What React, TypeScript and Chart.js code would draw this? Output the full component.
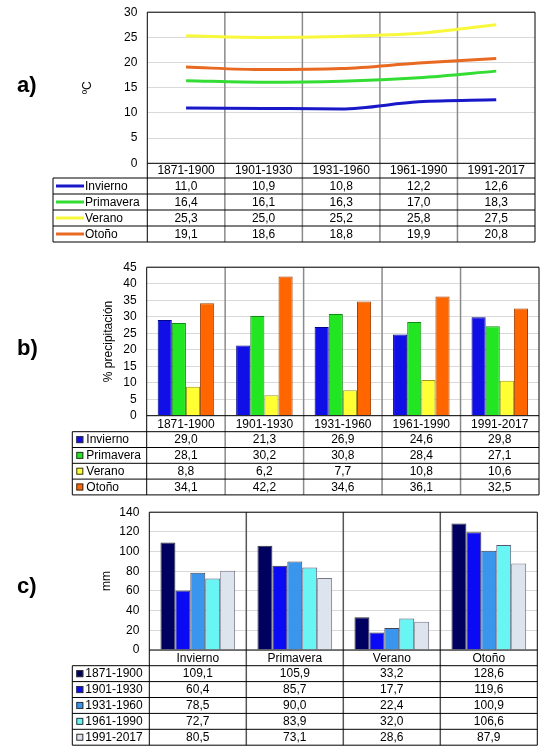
import React, { useEffect, useRef } from 'react';
import { Chart, registerables } from 'chart.js';

Chart.register(...registerables);
Chart.defaults.font.family = "'Liberation Sans', Arial, sans-serif";
Chart.defaults.font.size = 12;
Chart.defaults.color = '#000';

// ---------- data ----------
const periods = ['1871-1900', '1901-1930', '1931-1960', '1961-1990', '1991-2017'];
const seasons = ['Invierno', 'Primavera', 'Verano', 'Otoño'];

// a) temperatura media (ºC)
const tempInvierno = [11.0, 10.9, 10.8, 12.2, 12.6];
const tempPrimavera = [16.4, 16.1, 16.3, 17.0, 18.3];
const tempVerano = [25.3, 25.0, 25.2, 25.8, 27.5];
const tempOtono = [19.1, 18.6, 18.8, 19.9, 20.8];

// b) % precipitación
const pctInvierno = [29.0, 21.3, 26.9, 24.6, 29.8];
const pctPrimavera = [28.1, 30.2, 30.8, 28.4, 27.1];
const pctVerano = [8.8, 6.2, 7.7, 10.8, 10.6];
const pctOtono = [34.1, 42.2, 34.6, 36.1, 32.5];

// c) precipitación (mm) por estación
const mm1871 = [109.1, 105.9, 33.2, 128.6];
const mm1901 = [60.4, 85.7, 17.7, 119.6];
const mm1931 = [78.5, 90.0, 22.4, 100.9];
const mm1961 = [72.7, 83.9, 32.0, 106.6];
const mm1991 = [80.5, 73.1, 28.6, 87.9];

type Series = { label: string; data: number[]; color: string; edge: string };
type Panel = {
  id: string;
  type: 'line' | 'bar';
  labels: string[];
  series: Series[];
  yMax: number;
  yStep: number;
  yTitle: string;
  canvasTop: number;
  canvasHeight: number;
  pad: { left: number; right: number; top: number; bottom: number };
  yWidth: number;
  tableLeft: number;
  headerH: number;
  rowH: number;
  marker: 'line' | 'square';
  markerX: number;
  textX: number;
  dividerColor: string;
  catPct: number;
};

const panels: Panel[] = [
  {
    id: 'a',
    type: 'line',
    labels: periods,
    series: [
      { label: seasons[0], data: tempInvierno, color: '#1818c8', edge: '#1818c8' },
      { label: seasons[1], data: tempPrimavera, color: '#33dd33', edge: '#33dd33' },
      { label: seasons[2], data: tempVerano, color: '#f8f83a', edge: '#f8f83a' },
      { label: seasons[3], data: tempOtono, color: '#e86a22', edge: '#e86a22' },
    ],
    yMax: 30,
    yStep: 5,
    yTitle: 'ºC',
    canvasTop: -5,
    canvasHeight: 255,
    pad: { left: 80, right: 9, top: 10.3, bottom: 86.7 },
    yWidth: 67.3,
    tableLeft: 53,
    headerH: 14.7,
    rowH: 16,
    marker: 'line',
    markerX: 3,
    textX: 32,
    dividerColor: '#8a8a8a',
    catPct: 0.8,
  },
  {
    id: 'b',
    type: 'bar',
    labels: periods,
    series: [
      { label: seasons[0], data: pctInvierno, color: '#1010e6', edge: '#00008a' },
      { label: seasons[1], data: pctPrimavera, color: '#22e622', edge: '#138a13' },
      { label: seasons[2], data: pctVerano, color: '#ffff33', edge: '#9a9a20' },
      { label: seasons[3], data: pctOtono, color: '#ff6600', edge: '#a04000' },
    ],
    yMax: 45,
    yStep: 5,
    yTitle: '% precipitación',
    canvasTop: 250,
    canvasHeight: 250,
    pad: { left: 101.8, right: 5, top: 9.3, bottom: 84.3 },
    yWidth: 44.9,
    tableLeft: 72.3,
    headerH: 16,
    rowH: 15.8,
    marker: 'square',
    markerX: 4,
    textX: 14,
    dividerColor: '#8a8a8a',
    catPct: 0.72,
  },
  {
    id: 'c',
    type: 'bar',
    labels: seasons,
    series: [
      { label: periods[0], data: mm1871, color: '#000060', edge: '#333' },
      { label: periods[1], data: mm1901, color: '#0a0af5', edge: '#333' },
      { label: periods[2], data: mm1931, color: '#3a96ec', edge: '#445' },
      { label: periods[3], data: mm1961, color: '#6af5f5', edge: '#557' },
      { label: periods[4], data: mm1991, color: '#dde4ee', edge: '#778' },
    ],
    yMax: 140,
    yStep: 20,
    yTitle: 'mm',
    canvasTop: 495,
    canvasHeight: 255,
    pad: { left: 99.5, right: 6.7, top: 13, bottom: 100 },
    yWidth: 49.8,
    tableLeft: 72.3,
    headerH: 15.7,
    rowH: 15.9,
    marker: 'square',
    markerX: 4,
    textX: 13,
    dividerColor: '#555',
    catPct: 0.77,
  },
];

const fmt = (v: number) => v.toFixed(1).replace('.', ',');
const FONT = "12px 'Liberation Sans', Arial, sans-serif";

function makeTablePlugin(p: Panel) {
  return {
    id: 'table_' + p.id,
    beforeDatasetsDraw(chart: any) {
      const { ctx, chartArea } = chart;
      const x = chart.scales.x;
      const { top, bottom } = chartArea;
      const tableBottom = bottom + p.headerH + p.rowH * p.series.length;
      ctx.save();
      ctx.strokeStyle = p.dividerColor;
      ctx.lineWidth = 1.5;
      for (let i = 1; i < p.labels.length; i++) {
        const bx = (x.getPixelForValue(i - 1) + x.getPixelForValue(i)) / 2;
        ctx.beginPath();
        ctx.moveTo(bx, top);
        ctx.lineTo(bx, tableBottom);
        ctx.stroke();
      }
      ctx.restore();
    },
    afterDraw(chart: any) {
      const { ctx, chartArea } = chart;
      const x = chart.scales.x;
      const { top, bottom, left, right } = chartArea;
      const headBottom = bottom + p.headerH;
      const tableBottom = headBottom + p.rowH * p.series.length;
      ctx.save();
      ctx.strokeStyle = '#000';
      ctx.lineWidth = 1;
      const line = (x1: number, y1: number, x2: number, y2: number) => {
        ctx.beginPath();
        ctx.moveTo(x1, y1);
        ctx.lineTo(x2, y2);
        ctx.stroke();
      };
      line(left, top, right, top);
      line(left, top, left, tableBottom);
      line(right, top, right, tableBottom);
      line(left, bottom, right, bottom);
      line(p.tableLeft, headBottom, right, headBottom);
      for (let r = 1; r <= p.series.length; r++) {
        const yy = headBottom + p.rowH * r;
        line(p.tableLeft, yy, right, yy);
      }
      line(p.tableLeft, headBottom, p.tableLeft, tableBottom);

      ctx.font = FONT;
      ctx.fillStyle = '#000';
      ctx.textBaseline = 'middle';
      ctx.textAlign = 'center';
      p.labels.forEach((lab, i) => {
        ctx.fillText(lab, x.getPixelForValue(i), bottom + p.headerH / 2 + 0.5);
      });
      p.series.forEach((s, r) => {
        const cy = headBottom + p.rowH * (r + 0.5);
        if (p.marker === 'line') {
          ctx.strokeStyle = s.color;
          ctx.lineWidth = 3;
          line(p.tableLeft + p.markerX, cy, p.tableLeft + p.textX - 1, cy);
        } else {
          const sx = p.tableLeft + p.markerX;
          ctx.fillStyle = s.color;
          ctx.fillRect(sx, cy - 3.5, 7, 7);
          ctx.strokeStyle = '#333';
          ctx.lineWidth = 1;
          ctx.strokeRect(sx + 0.5, cy - 3, 6, 6);
        }
        ctx.fillStyle = '#000';
        ctx.textAlign = 'left';
        ctx.fillText(s.label, p.tableLeft + p.textX, cy + 0.5);
        ctx.textAlign = 'center';
        s.data.forEach((v, i) => {
          ctx.fillText(fmt(v), x.getPixelForValue(i), cy + 0.5);
        });
      });
      ctx.restore();
    },
  };
}

function PanelChart({ p }: { p: Panel }) {
  const ref = useRef<HTMLCanvasElement | null>(null);
  useEffect(() => {
    if (!ref.current) return;
    const datasets = p.series.map((s) =>
      p.type === 'line'
        ? {
            label: s.label,
            data: s.data,
            borderColor: s.color,
            backgroundColor: s.color,
            borderWidth: 3,
            pointRadius: 0,
            cubicInterpolationMode: 'monotone' as const,
            fill: false,
          }
        : {
            label: s.label,
            data: s.data,
            backgroundColor: s.color,
            borderColor: s.edge,
            borderWidth: 1,
            barPercentage: 1,
            categoryPercentage: p.catPct,
          }
    );
    const chart = new Chart(ref.current, {
      type: p.type,
      data: { labels: p.labels, datasets: datasets as any },
      plugins: [makeTablePlugin(p)],
      options: {
        animation: false,
        responsive: false,
        maintainAspectRatio: false,
        layout: { padding: p.pad },
        plugins: { legend: { display: false }, tooltip: { enabled: false } },
        scales: {
          x: { type: 'category', display: false, offset: true },
          y: {
            min: 0,
            max: p.yMax,
            afterFit: (scale: any) => {
              scale.width = p.yWidth;
            },
            ticks: {
              stepSize: p.yStep,
              autoSkip: false,
              maxTicksLimit: 20,
              padding: 10,
              color: '#000',
              font: { size: 12 },
            },
            grid: { color: '#d9d9d9', lineWidth: 1, drawTicks: false },
            border: { display: false },
            title: {
              display: true,
              text: p.yTitle,
              color: '#000',
              font: { size: 12 },
              padding: { top: 0, bottom: 0 },
            },
          },
        },
      } as any,
    });
    return () => chart.destroy();
  }, [p]);
  return (
    <canvas
      ref={ref}
      width={544}
      height={p.canvasHeight}
      style={{ position: 'absolute', left: 0, top: p.canvasTop, width: 544, height: p.canvasHeight }}
    />
  );
}

const tags = [
  { text: 'a)', top: 73 },
  { text: 'b)', top: 336 },
  { text: 'c)', top: 574 },
];

export default function App() {
  return (
    <div
      style={{
        position: 'absolute',
        left: 0,
        top: 0,
        width: 544,
        height: 750,
        background: '#fff',
        overflow: 'hidden',
      }}
    >
      {panels.map((p) => (
        <PanelChart key={p.id} p={p} />
      ))}
      {tags.map((t) => (
        <div
          key={t.text}
          style={{
            position: 'absolute',
            left: 17,
            top: t.top,
            font: "bold 22px 'Liberation Sans', Arial, sans-serif",
            lineHeight: '24px',
            color: '#000',
          }}
        >
          {t.text}
        </div>
      ))}
    </div>
  );
}
